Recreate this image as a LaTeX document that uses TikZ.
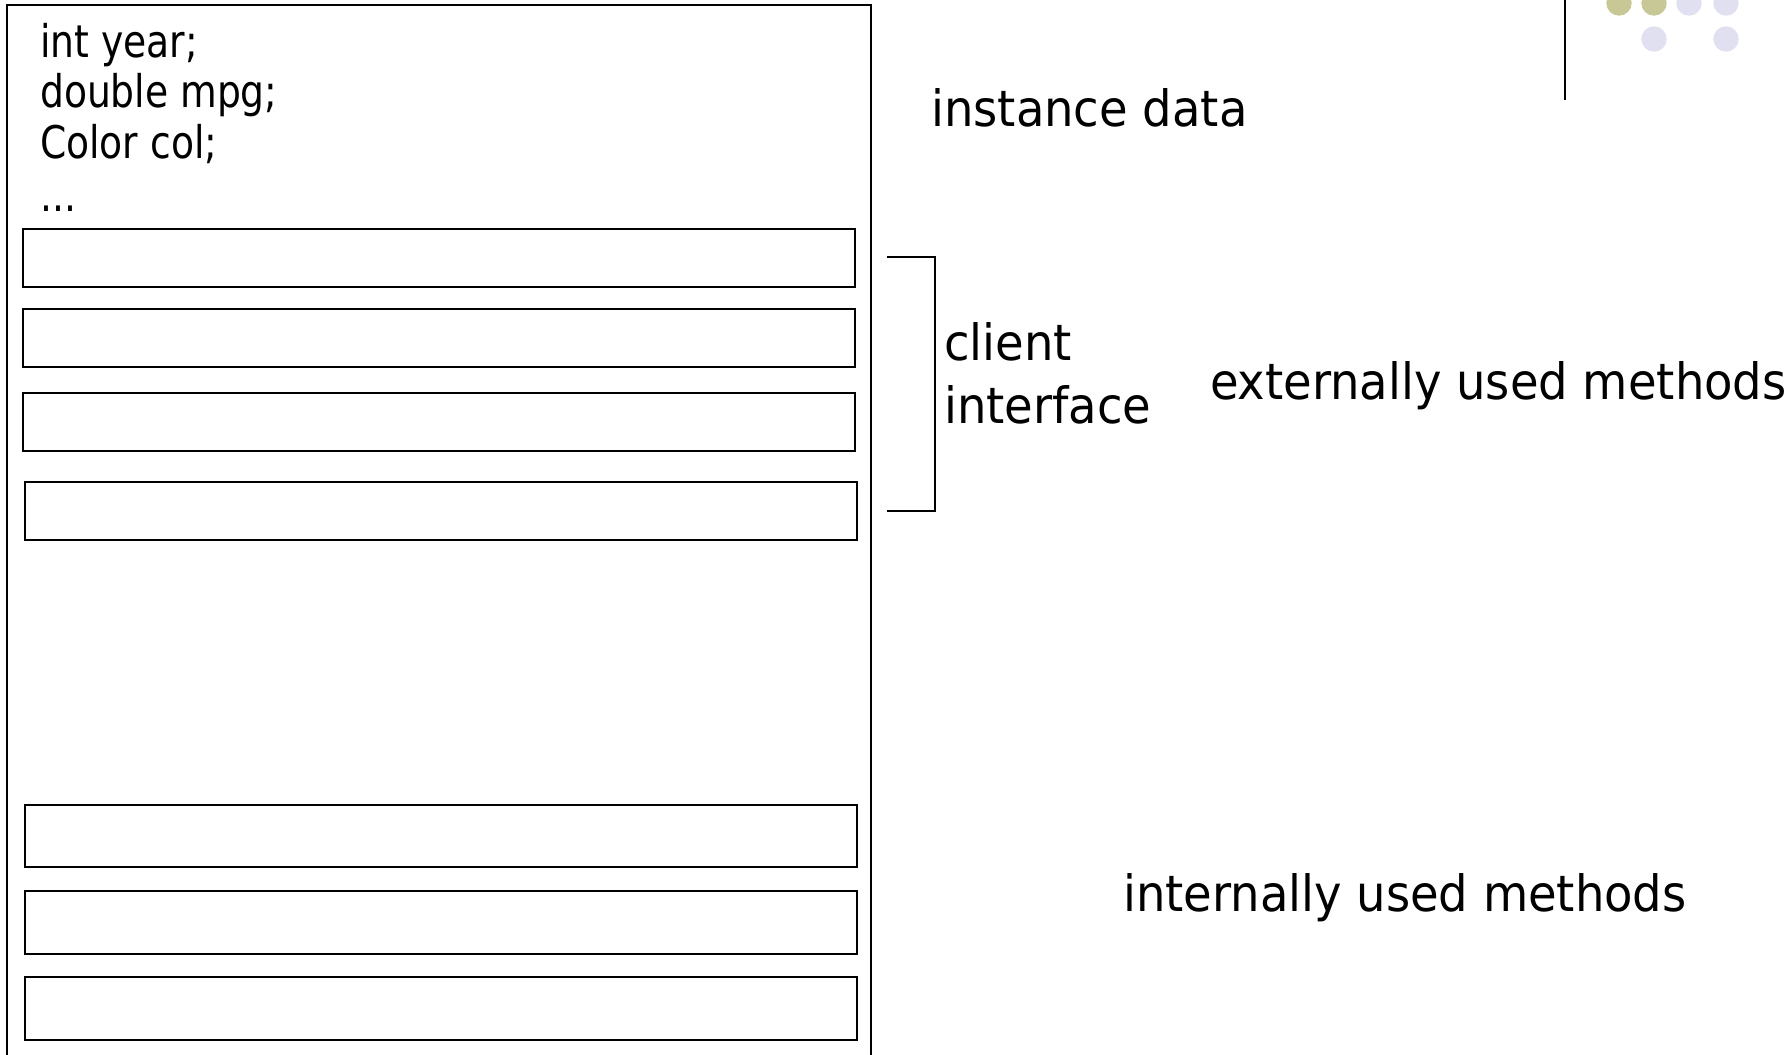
\documentclass[tikz,border=0pt]{standalone}
\usepackage{fontspec}
\setmainfont{DejaVu Sans Condensed}
\newfontfamily\codefont[FakeStretch=0.93]{DejaVu Sans Condensed}
\newfontfamily\labelfont[FakeStretch=1.033]{DejaVu Sans Condensed}
\begin{document}
\begin{tikzpicture}[x=1pt,y=-1pt,
  methodbox/.style={draw,line width=2.4pt},
  codetext/.style={anchor=base west,inner sep=0pt,font=\codefont\fontsize{45}{50}\selectfont},
  bigtext/.style={anchor=base west,inner sep=0pt,font=\labelfont\fontsize{50}{60}\selectfont},
  dotolive/.style={fill={rgb,255:red,200;green,200;blue,150},draw=none},
  dotlav/.style={fill={rgb,255:red,224;green,224;blue,240},draw=none}]
\useasboundingbox (0,0) rectangle (1792,1055);
% outer object box (open at the bottom)
\draw[line width=2.2pt] (7,1070) coordinate (obl) -- (7,5) coordinate (otl) -- (871,5) coordinate (otr) -- (871,1070) coordinate (obr);
% code text
\node[codetext] (t1) at (40,57) {int year;};
\node[codetext] (t2) at (40,107) {double mpg;};
\node[codetext] (t3) at (40,158) {Color col;};
\node[codetext] (t4) at (40,211) {...};
% method boxes
\draw[methodbox] (23,229) rectangle (855,287) node[pos=.5,inner sep=0pt] (m1) {};
\draw[methodbox] (23,309) rectangle (855,367) node[pos=.5,inner sep=0pt] (m2) {};
\draw[methodbox] (23,393) rectangle (855,451) node[pos=.5,inner sep=0pt] (m3) {};
\draw[methodbox] (25,482) rectangle (857,540) node[pos=.5,inner sep=0pt] (m4) {};
\draw[methodbox] (25,805) rectangle (857,867) node[pos=.5,inner sep=0pt] (m5) {};
\draw[methodbox] (25,891) rectangle (857,954) node[pos=.5,inner sep=0pt] (m6) {};
\draw[methodbox] (25,977) rectangle (857,1040) node[pos=.5,inner sep=0pt] (m7) {};
% bracket
\coordinate (b1) at (887,257);
\coordinate (b2) at (935,257);
\coordinate (b3) at (935,511);
\coordinate (b4) at (887,511);
\draw[line width=2.4pt] (b1) -- (b2) -- (b3) -- (b4);
% labels
\node[bigtext] (inst) at (931,126) {instance data};
\node[bigtext] (cl1) at (944,360) {client};
\node[bigtext] (cl2) at (944,423) {interface};
\node[bigtext] (ext) at (1210,399) {externally used methods};
\node[bigtext] (int) at (1123,911) {internally used methods};
% decoration top right
\draw[line width=2.8pt] (1565,0) coordinate (vl1) -- (1565,100) coordinate (vl2);
\fill[dotolive] (1619,3) circle (12.7);
\fill[dotolive] (1654,3) circle (12.7);
\fill[dotlav] (1689,3) circle (12.7);
\fill[dotlav] (1726,3) circle (12.7);
\fill[dotlav] (1654,39) circle (12.7);
\fill[dotlav] (1726,39) circle (12.7);
\end{tikzpicture}
\end{document}
